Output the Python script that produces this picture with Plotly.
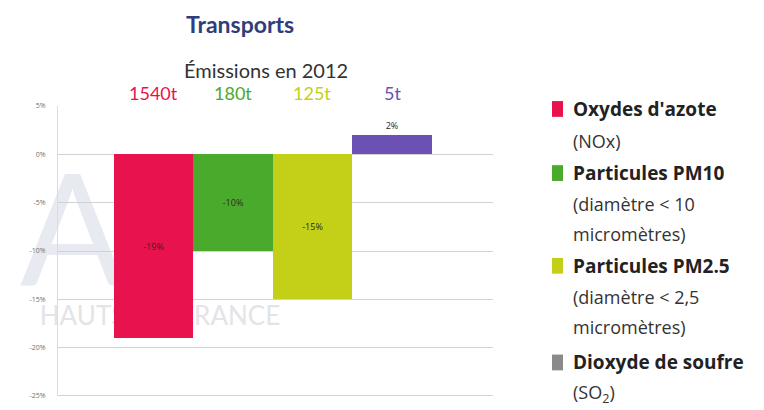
import plotly.graph_objects as go

categories = ["Oxydes d'azote", "Particules PM10", "Particules PM2.5", "Dioxyde de soufre"]
changes = [-19, -10, -15, 2]
change_labels = ["-19%", "-10%", "-15%", "2%"]
emissions = ["1540t", "180t", "125t", "5t"]
bar_colors = ["#e8124f", "#4aaa2c", "#c4d017", "#6b51b3"]
legend_colors = ["#e8124f", "#4aaa2c", "#c4d017", "#8a8a8a"]
legend_titles = ["Oxydes d'azote", "Particules PM10", "Particules PM2.5", "Dioxyde de soufre"]
legend_subs = [["(NOx)"], ["(diamètre < 10", "micromètres)"], ["(diamètre < 2,5", "micromètres)"], ["(SO<sub>2</sub>)"]]
tick_vals = [5, 0, -5, -10, -15, -20, -25]
tick_text = ["5%", "0%", "-5%", "-10%", "-15%", "-20%", "-25%"]

FONT = "Open Sans"
TFONT = "Lato"

# page coordinates (the browser body adds an 8px margin)
OFF = 8
FW, FH = 764 - OFF, 410 - OFF
PL, PR, PT, PB = 58, 493, 106, 400


def px(X):
    return (X - PL) / (PR - PL)


def py(Y):
    return (PB - Y) / (PB - PT)


fig = go.Figure()
fig.add_trace(go.Bar(
    x=categories, y=changes,
    marker=dict(color=bar_colors, line=dict(width=0)),
    text=change_labels,
    textposition=["inside", "inside", "inside", "outside"],
    insidetextanchor="middle",
    textfont=dict(size=9, color="#2a2a2a", family=FONT),
    outsidetextfont=dict(size=9, color="#2a2a2a", family=FONT),
    cliponaxis=False,
    width=1.0,
    showlegend=False,
))

fig.update_layout(
    width=FW, height=FH,
    margin=dict(l=PL - OFF, r=OFF + FW - PR, t=PT - OFF, b=OFF + FH - PB),
    paper_bgcolor="white", plot_bgcolor="white",
    bargap=0,
    font=dict(family=FONT),
    xaxis=dict(type="category", range=[-1.2, 4.27], showticklabels=False,
               showgrid=False, zeroline=False, showline=False, ticks=""),
    yaxis=dict(range=[-25, 5], tickvals=tick_vals, ticktext=tick_text,
               tickfont=dict(size=7, color="#707070", family=FONT),
               showgrid=True, gridcolor="#d2d2d2", gridwidth=1,
               zeroline=False, showline=True, linecolor="#dcdcdc", linewidth=1,
               ticks="", ticklabelstandoff=10),
    uniformtext=dict(minsize=6, mode="show"),
)

# faint watermark behind the bars
fig.add_shape(type="rect", xref="paper", yref="paper", layer="below",
              x0=px(20), x1=px(300), y0=py(330), y1=py(306),
              line=dict(width=0), fillcolor="rgba(0,0,0,0)",
              label=dict(text="HAUTS-DE-FRANCE", textposition="middle center",
                         font=dict(size=26, color="#e3e4e8", family=TFONT)))
fig.add_shape(type="rect", xref="paper", yref="paper", layer="below",
              x0=px(25), x1=px(120), y0=py(290), y1=py(160),
              line=dict(width=0), fillcolor="rgba(0,0,0,0)",
              label=dict(text="A", textposition="middle center",
                         font=dict(size=155, color="#e8eaf1", family=TFONT)))

# bottom axis line darker
fig.add_shape(type="line", xref="paper", yref="y", x0=0, x1=1, y0=-25, y1=-25,
              line=dict(color="#a8a8a8", width=1.2))

# titles
fig.add_annotation(text="<b>Transports</b>", xref="paper", yref="paper",
                   x=px(240), y=py(23), showarrow=False, yanchor="middle",
                   font=dict(size=23, color="#2e3d7c", family=TFONT))
fig.add_annotation(text="Émissions en 2012", xref="paper", yref="paper",
                   x=px(266), y=py(69), showarrow=False, yanchor="middle",
                   font=dict(size=20, color="#333333", family=TFONT))
for cat, em, col in zip(categories, emissions, bar_colors):
    fig.add_annotation(text=em, x=cat, xref="x", yref="paper", y=py(93),
                       showarrow=False, yanchor="middle",
                       font=dict(size=18, color=col, family=TFONT))

# custom legend
ys = [[109, 141], [174, 205, 236], [268, 300, 330], [366, 397]]
for title, subs, col, yy in zip(legend_titles, legend_subs, legend_colors, ys):
    fig.add_shape(type="rect", xref="paper", yref="paper",
                  x0=px(552), x1=px(563), y0=py(yy[0] + 8), y1=py(yy[0] - 8),
                  fillcolor=col, line=dict(width=0))
    fig.add_annotation(text="<b>" + title + "</b>", xref="paper", yref="paper",
                       x=px(571), y=py(yy[0]), xanchor="left", yanchor="middle",
                       showarrow=False,
                       font=dict(size=19, color="#222222", family=FONT))
    for s, y in zip(subs, yy[1:]):
        fig.add_annotation(text=s, xref="paper", yref="paper",
                           x=px(571), y=py(y), xanchor="left", yanchor="middle",
                           showarrow=False,
                           font=dict(size=18, color="#333333", family=FONT))

fig.write_html("out.html")
